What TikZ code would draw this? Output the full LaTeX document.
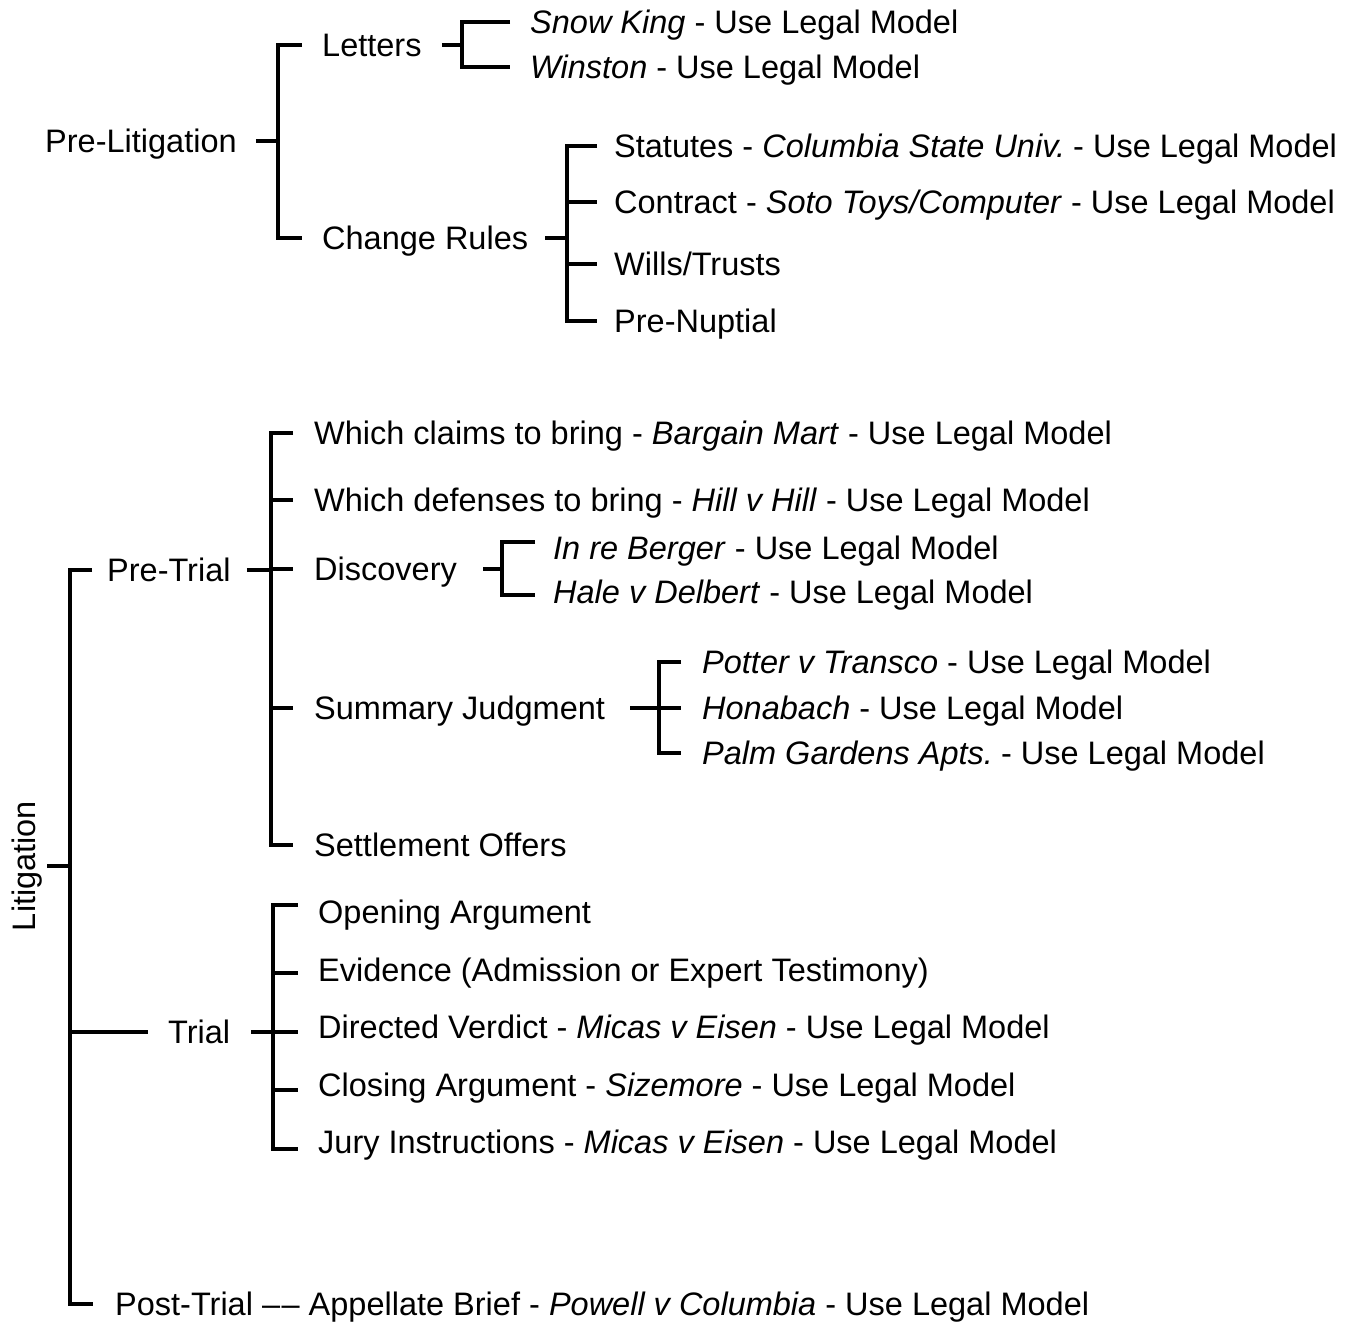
\documentclass[tikz,border=0pt]{standalone}
\usepackage{fontspec}
\setmainfont{Liberation Sans}
\begin{document}
\begin{tikzpicture}[x=1pt,y=-1pt,
  tx/.style={anchor=west,inner sep=0pt,text height=23pt,text depth=0pt,font=\fontsize{32.5}{39}\selectfont},
  ln/.style={line width=3.8pt,line join=miter,line cap=butt}]
\useasboundingbox (0,0) rectangle (1360,1323);

% ---------- Pre-Litigation ----------
\node[tx] (prelit) at (45,141) {Pre-Litigation};
\node[tx] (letters) at (322,45) {Letters};
\node[tx] (change) at (322,238) {Change Rules};
\node[tx] (snow) at (530,22) {\textit{Snow King} - Use Legal Model};
\node[tx] (winston) at (530,67) {\textit{Winston} - Use Legal Model};
\node[tx] (statutes) at (614,146) {Statutes - \textit{Columbia State Univ.}\kern-4pt{} - Use Legal Model};
\node[tx] (contract) at (614,202) {Contract - \textit{Soto Toys/Computer} - Use Legal Model};
\node[tx] (wills) at (614,264) {Wills/Trusts};
\node[tx] (prenup) at (614,321) {Pre-Nuptial};

\coordinate (spl) at (278,0);
\coordinate (sle) at (462,0);
\coordinate (scr) at (567,0);

\draw[ln] ([xshift=19pt]prelit.east) -- (spl |- prelit.east);
\draw[ln] ([xshift=-20pt]letters.west) -| (spl |- change.west) -- ([xshift=-20pt]change.west);
\draw[ln] ([xshift=20pt]letters.east) -- (sle |- letters.east);
\draw[ln] ([xshift=-20pt]snow.west) -| (sle |- winston.west) -- ([xshift=-20pt]winston.west);
\draw[ln] ([xshift=17pt]change.east) -- (scr |- change.east);
\draw[ln] ([xshift=-17pt]statutes.west) -| (scr |- prenup.west) -- ([xshift=-17pt]prenup.west);
\draw[ln] (scr |- contract.west) -- ([xshift=-17pt]contract.west);
\draw[ln] (scr |- wills.west) -- ([xshift=-17pt]wills.west);

% ---------- Litigation ----------
\node[tx,rotate=90,anchor=center] (lit) at (23.5,866) {Litigation};
\node[tx] (pretrial) at (107,570) {Pre-Trial};
\node[tx] (trial) at (168,1032) {Trial};
\node[tx] (posttrial) at (115,1304) {Post-Trial –\kern1.5pt– Appellate Brief - \textit{Powell v Columbia} - Use Legal Model};

\coordinate (sli) at (70,0);
\draw[ln] ([xshift=12pt]lit.south) -- (sli |- lit.south);
\draw[ln] ([xshift=-15pt]pretrial.west) -| (sli |- posttrial.west) -- ([xshift=-22pt]posttrial.west);
\draw[ln] (sli |- trial.west) -- ([xshift=-20pt]trial.west);

% ---------- Pre-Trial ----------
\node[tx] (claims) at (314,433) {Which claims to bring - \textit{Bargain Mart} - Use Legal Model};
\node[tx] (defenses) at (314,500) {Which defenses to bring - \textit{Hill v Hill} - Use Legal Model};
\node[tx] (discovery) at (314,569) {Discovery};
\node[tx] (sj) at (314,708) {Summary Judgment};
\node[tx] (settle) at (314,845) {Settlement Offers};

\coordinate (spt) at (271,0);
\draw[ln] ([xshift=16pt]pretrial.east) -- (spt |- pretrial.east);
\draw[ln] ([xshift=-21pt]claims.west) -| (spt |- settle.west) -- ([xshift=-21pt]settle.west);
\draw[ln] (spt |- defenses.west) -- ([xshift=-21pt]defenses.west);
\draw[ln] (spt |- discovery.west) -- ([xshift=-21pt]discovery.west);
\draw[ln] (spt |- sj.west) -- ([xshift=-21pt]sj.west);

% Discovery
\node[tx] (berger) at (553,548) {\textit{In re Berger} - Use Legal Model};
\node[tx] (hale) at (553,592) {\textit{Hale v Delbert} - Use Legal Model};
\coordinate (sdi) at (502,0);
\coordinate (bergert) at ([xshift=-18pt,yshift=6pt]berger.west);
\coordinate (halet) at ([xshift=-18pt,yshift=-3pt]hale.west);
\draw[ln] ([xshift=26pt]discovery.east) -- (sdi |- discovery.east);
\draw[ln] (bergert) -| (sdi |- halet) -- (halet);

% Summary Judgment
\node[tx] (potter) at (702,662) {\textit{Potter v Transco} - Use Legal Model};
\node[tx] (honabach) at (702,708) {\textit{Honabach} - Use Legal Model};
\node[tx] (palm) at (702,753) {\textit{Palm Gardens Apts.}\kern-4pt{} - Use Legal Model};
\coordinate (ssj) at (659,0);
\draw[ln] ([xshift=25pt]sj.east) -- (ssj |- sj.east);
\draw[ln] ([xshift=-21pt]potter.west) -| (ssj |- palm.west) -- ([xshift=-21pt]palm.west);
\draw[ln] (ssj |- honabach.west) -- ([xshift=-21pt]honabach.west);

% ---------- Trial ----------
\node[tx] (open) at (318,912) {Opening Argument};
\node[tx] (evid) at (318,970) {Evidence (Admission or Expert Testimony)};
\node[tx] (directed) at (318,1027) {Directed Verdict - \textit{Micas v Eisen} - Use Legal Model};
\node[tx] (closing) at (318,1085) {Closing Argument - \textit{Sizemore} - Use Legal Model};
\node[tx] (jury) at (318,1142) {Jury Instructions - \textit{Micas v Eisen} - Use Legal Model};

\coordinate (str) at (273,0);
\coordinate (opent) at ([xshift=-20pt,yshift=7pt]open.west);
\coordinate (evidt) at ([xshift=-20pt,yshift=-3pt]evid.west);
\coordinate (directedt) at ([xshift=-20pt,yshift=-5pt]directed.west);
\coordinate (closingt) at ([xshift=-20pt,yshift=-5pt]closing.west);
\coordinate (juryt) at ([xshift=-20pt,yshift=-7pt]jury.west);
\draw[ln] ([xshift=21pt]trial.east) -- (str |- trial.east);
\draw[ln] (opent) -| (str |- juryt) -- (juryt);
\draw[ln] (str |- evidt) -- (evidt);
\draw[ln] (str |- directedt) -- (directedt);
\draw[ln] (str |- closingt) -- (closingt);
\end{tikzpicture}
\end{document}
